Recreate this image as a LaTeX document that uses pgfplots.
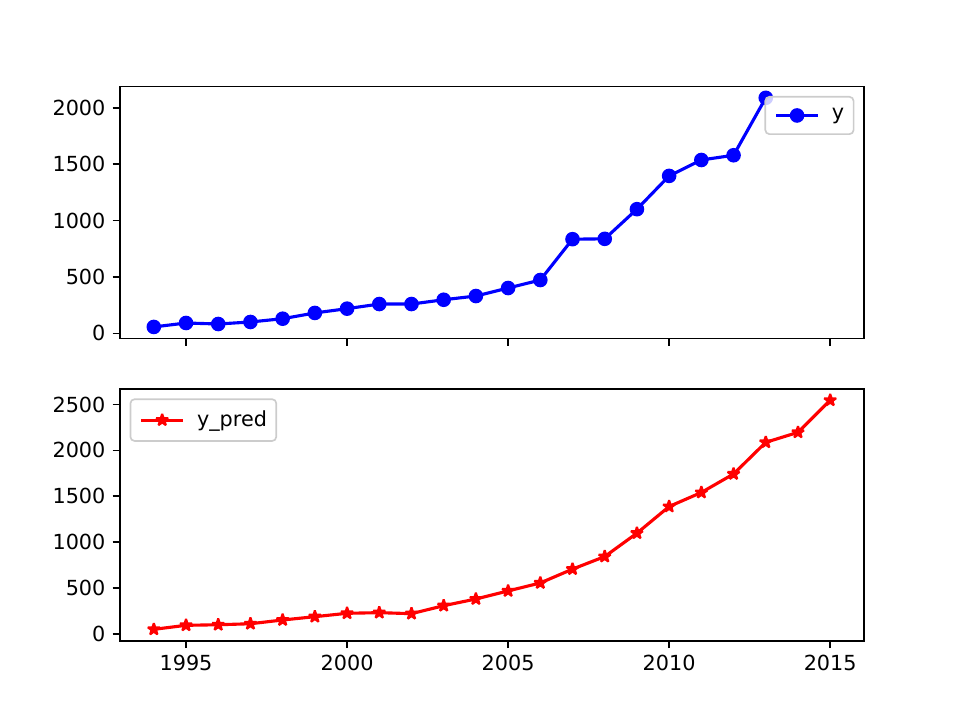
\documentclass[border=0pt]{standalone}
\usepackage{fontspec}
\setmainfont{DejaVu Sans}
\usepackage{pgfplots}
\pgfplotsset{compat=1.18}

% filled five-pointed star, like matplotlib's '*'
\pgfdeclareplotmark{fstar}{%
  \pgfpathmoveto{\pgfpointpolar{90}{\pgfplotmarksize}}%
  \pgfpathlineto{\pgfpointpolar{126}{0.382\pgfplotmarksize}}%
  \pgfpathlineto{\pgfpointpolar{162}{\pgfplotmarksize}}%
  \pgfpathlineto{\pgfpointpolar{198}{0.382\pgfplotmarksize}}%
  \pgfpathlineto{\pgfpointpolar{234}{\pgfplotmarksize}}%
  \pgfpathlineto{\pgfpointpolar{270}{0.382\pgfplotmarksize}}%
  \pgfpathlineto{\pgfpointpolar{306}{\pgfplotmarksize}}%
  \pgfpathlineto{\pgfpointpolar{342}{0.382\pgfplotmarksize}}%
  \pgfpathlineto{\pgfpointpolar{18}{\pgfplotmarksize}}%
  \pgfpathlineto{\pgfpointpolar{54}{0.382\pgfplotmarksize}}%
  \pgfpathclose
  \pgfusepathqfillstroke}

\pgfplotsset{
  mplstyle/.style={
    scale only axis,
    width=357.12bp, height=120.96bp,
    xmin=1992.95, xmax=2016.05,
    xtick={1995,2000,2005,2010,2015},
    axis line style={black, line width=0.8bp},
    tick align=outside,
    major tick length=3.5bp,
    every tick/.style={black, line width=0.8bp},
    xtick pos=lower, ytick pos=left,
    /pgf/number format/assume math mode=true,
    /pgf/number format/set thousands separator={},
    tick label style={font=\fontsize{10}{12}\selectfont},
    legend style={font=\fontsize{10}{12}\selectfont, draw=black!20,
      fill=white, fill opacity=0.8, text opacity=1, rounded corners=2bp,
      line width=0.8bp, inner xsep=2.5bp, inner ysep=3.5bp, outer sep=0bp,
      row sep=0bp},
    legend cell align=left,
    legend image code/.code={%
      \begin{scope}[fill opacity=1]
      \path (-2bp,0bp) (24bp,0bp);
      \draw[mark repeat=2,mark phase=2] plot coordinates {(0bp,0bp)(10bp,0bp)(20bp,0bp)};
      \end{scope}},
  },
}

\begin{document}
\begin{tikzpicture}
\path[use as bounding box] (0,0) rectangle (460.8bp,345.6bp);

\begin{axis}[mplstyle,
  at={(57.6bp,183.17bp)}, anchor=south west,
  ymin=-44.5, ymax=2189.5,
  ytick={0,500,1000,1500,2000},
  xticklabels={},
  legend style={at={(1,1)}, anchor=north east, xshift=-5bp, yshift=-5bp},
]
\addplot[blue, line width=1.5bp, mark=*, mark size=3bp,
  mark options={fill=blue, draw=blue, line width=1bp}] coordinates {
  (1994,57) (1995,92) (1996,83) (1997,101) (1998,130) (1999,181)
  (2000,219) (2001,260) (2002,260) (2003,298) (2004,331) (2005,402)
  (2006,473) (2007,835) (2008,838) (2009,1101) (2010,1396) (2011,1537)
  (2012,1579) (2013,2088)};
\addlegendentry{y}
\end{axis}

\begin{axis}[mplstyle,
  at={(57.6bp,38.016bp)}, anchor=south west,
  ymin=-77, ymax=2672,
  ytick={0,500,1000,1500,2000,2500},
  legend style={at={(0,1)}, anchor=north west, xshift=5bp, yshift=-5bp},
]
\addplot[red, line width=1.5bp, mark=fstar, mark size=3bp,
  mark options={fill=red, draw=red, line width=1bp, line join=bevel}] coordinates {
  (1994,48) (1995,92) (1996,98) (1997,109) (1998,150) (1999,186)
  (2000,223) (2001,230) (2002,219) (2003,306) (2004,379) (2005,467)
  (2006,554) (2007,705) (2008,842) (2009,1097) (2010,1388) (2011,1541)
  (2012,1743) (2013,2088) (2014,2197) (2015,2547)};
\addlegendentry{y\_pred}
\end{axis}
\end{tikzpicture}
\end{document}
